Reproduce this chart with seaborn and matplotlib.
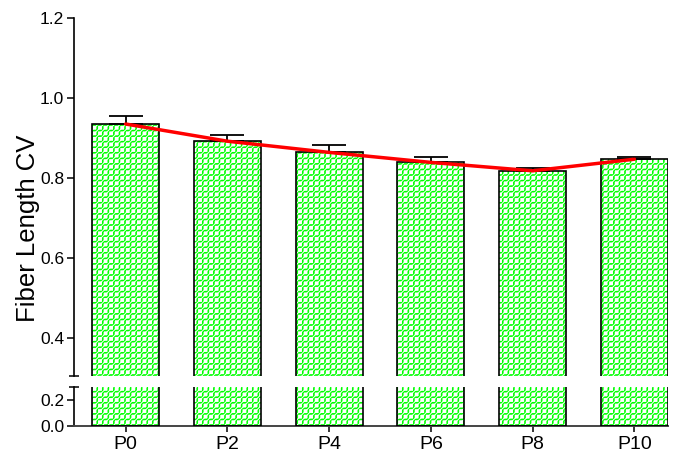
import numpy as np
import pandas as pd
import matplotlib
matplotlib.use("Agg")
import matplotlib.pyplot as plt
import seaborn as sns

# Fiber length CV by pass number
passes = ["P0", "P2", "P4", "P6", "P8", "P10"]
cv_mean = [0.935, 0.892, 0.864, 0.839, 0.818, 0.847]
cv_err = [0.021, 0.015, 0.019, 0.013, 0.006, 0.005]

df = pd.DataFrame({"pass": passes, "cv": cv_mean})

sns.set_theme(style="white")
plt.rcParams["font.family"] = ["Liberation Sans", "DejaVu Sans"]
plt.rcParams["text.color"] = "black"
plt.rcParams["xtick.color"] = "black"
plt.rcParams["ytick.color"] = "black"

fig = plt.figure(figsize=(6.76, 4.54), dpi=100)
L, R = 74 / 676, 668 / 676
ax_top = fig.add_axes([L, 1 - 376 / 454, R - L, (376 - 18) / 454])
ax_bot = fig.add_axes([L, 1 - 426 / 454, R - L, (426 - 387) / 454])

bar_w = 0.66
for ax in (ax_top, ax_bot):
    # green grid fill
    plt.rcParams["hatch.linewidth"] = 1.2
    sns.barplot(data=df, x="pass", y="cv", ax=ax, color="white",
                edgecolor="#00ff00", hatch="+++", linewidth=0, width=bar_w,
                errorbar=None, zorder=2)
    # thin white diagonal hatch breaks the grid into short dashes
    plt.rcParams["hatch.linewidth"] = 0.7
    sns.barplot(data=df, x="pass", y="cv", ax=ax, fill=False,
                color="white", hatch="//////", linewidth=0, width=bar_w,
                errorbar=None, zorder=2.5)
    # outline
    sns.barplot(data=df, x="pass", y="cv", ax=ax, fill=False,
                color="black", linewidth=1.2, width=bar_w,
                errorbar=None, zorder=3)

x = np.arange(len(passes))
ax_top.errorbar(x, cv_mean, yerr=[np.zeros(len(cv_err)), cv_err], fmt="none",
                ecolor="black", elinewidth=1.3, capsize=12, capthick=1.3,
                zorder=4)
sns.pointplot(data=df, x="pass", y="cv", ax=ax_top, color="red",
              markers="", linestyles="-", linewidth=2.5, errorbar=None)
for line in ax_top.lines[-1:]:
    line.set_zorder(5)

xlim = (-0.507, len(passes) - 1 + bar_w / 2)
for ax in (ax_top, ax_bot):
    ax.set_xlim(*xlim)
    ax.set_xlabel("")
    ax.set_ylabel("")
    for s in ("top", "right"):
        ax.spines[s].set_visible(False)
    ax.spines["left"].set_color("black")
    ax.spines["left"].set_linewidth(1.2)
    ax.tick_params(axis="y", which="major", direction="out", length=5,
                   width=1.1, color="black", labelsize=12.5, pad=2, left=True)
    ax.tick_params(axis="y", which="minor", direction="inout", length=7,
                   width=1.1, color="black", left=True)

ax_top.set_ylim(0.305, 1.2)
ax_top.set_yticks([0.4, 0.6, 0.8, 1.0, 1.2])
ax_top.set_yticklabels(["0.4", "0.6", "0.8", "1.0", "1.2"])
ax_top.set_yticks([0.305], minor=True)
ax_top.spines["bottom"].set_visible(False)
ax_top.tick_params(axis="x", bottom=False, labelbottom=False)

ax_bot.set_ylim(0, 0.3)
ax_bot.set_yticks([0.0, 0.2])
ax_bot.set_yticklabels(["0.0", "0.2"])
ax_bot.set_yticks([0.3], minor=True)
ax_bot.spines["bottom"].set_color("#444444")
ax_bot.spines["bottom"].set_linewidth(1.4)
ax_bot.tick_params(axis="x", direction="out", length=4, width=1.1,
                   color="black", labelsize=14, pad=3, bottom=True)

fig.text(28 / 676, 1 - 228 / 454, "Fiber Length CV", rotation=90,
         ha="center", va="center", fontsize=18.5)

fig.savefig("out.png", dpi=100)
